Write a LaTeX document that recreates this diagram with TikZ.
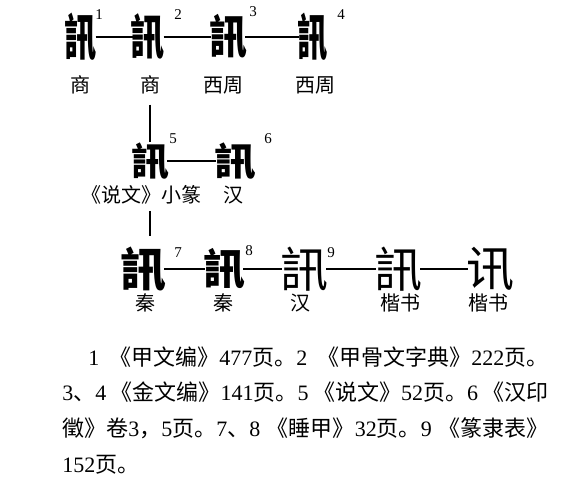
\documentclass[tikz,border=0pt]{standalone}
\usepackage{fontspec}
\setmainfont{Liberation Serif}
\newfontfamily\cjk{Noto Sans CJK SC}
\newfontfamily\cjktc{Noto Sans CJK TC}
\newcommand{\zh}[1]{{\cjk #1}}
\XeTeXlinebreaklocale "zh"
\XeTeXlinebreakskip=0pt plus 1pt

\begin{document}
\begin{tikzpicture}[x=0.5pt,y=-0.5pt,
	oldform/.style={inner sep=0pt,font=\cjktc\bfseries\fontsize{19}{19}\selectfont},
	newform/.style={inner sep=0pt,font=\cjktc\fontsize{24}{24}\selectfont},
	era/.style={inner sep=0pt,font=\cjk\fontsize{10}{10}\selectfont},
	idx/.style={inner sep=0pt,font=\fontsize{7.5}{7.5}\selectfont},
	link/.style={line width=0.6pt,shorten <=-1pt,shorten >=-1pt},
	note/.style={inner sep=0pt,anchor=west,font=\fontsize{11}{11}\selectfont}]
	\useasboundingbox (0,0) rectangle (588,500);
	% row 1
	\node[oldform] (g1) at (81,37) {\scalebox{0.85}[1.3]{訊}};\node[oldform] (g2) at (148,37) {\scalebox{0.9}[1.25]{訊}};\node[oldform] (g3) at (228,37) {\scalebox{1}[1.2]{訊}};\node[oldform] (g4) at (313,37) {\scalebox{0.8}[1.3]{訊}};
	\node[idx] (s1) at (99,15) {1};\node[idx] (s2) at (178,15) {2};\node[idx] (s3) at (253,12) {3};\node[idx] (s4) at (341,15) {4};
	\node[era] (e1) at (80,85) {商};\node[era] (e2) at (150,85) {商};\node[era] (e3) at (223,85) {西周};\node[era] (e4) at (315,85) {西周};
	\draw[link] (g1)--(g2);\draw[link] (g2)--(g3);\draw[link] (g3)--(g4);
	% row 2
	\node[oldform] (g5) at (150,161) {訊};\node[oldform] (g6) at (235,161) {\scalebox{1.1}[1]{訊}};
	\node[idx] (s5) at (173,139) {5};\node[idx] (s6) at (268,139) {6};
	\node[era] (e5) at (141,195) {《说文》小篆};\node[era] (e6) at (233,195) {汉};
	\draw[link] (g5)--(g6);
	\draw[line width=0.6pt] (e2.south)++(0,10)--(g5.north);
	% row 3
	\node[oldform,font=\cjktc\bfseries\fontsize{23}{23}\selectfont] (g7) at (143,269) {訊};\node[oldform,font=\cjktc\bfseries\fontsize{21}{21}\selectfont] (g8) at (224,269) {訊};
	\node[newform] (g9) at (304,269) {訊};\node[newform] (g10) at (398,269) {訊};\node[newform] (g11) at (490,269) {\zh{讯}};
	\node[idx] (s7) at (178,253) {7};\node[idx] (s8) at (249,251) {8};\node[idx] (s9) at (331,253) {9};
	\node[era] (e7) at (145,303) {秦};\node[era] (e8) at (223,303) {秦};\node[era] (e9) at (300,303) {汉};\node[era] (e10) at (400,303) {楷书};\node[era] (e11) at (488,303) {楷书};
	\draw[link] (g7)--(g8);\draw[link] (g8)--(g9);\draw[link] (g9)--(g10);\draw[link] (g10)--(g11);
	\draw[line width=0.6pt] ([yshift=-3]g5 |- e5.south)--([yshift=5]g5 |- g7.north);
	% sources
	\node[note] (n1) at (88,357) {\makebox[230pt][s]{1 \zh{《甲文编》}477\zh{页。}2 \zh{《甲骨文字典》}222\zh{页。}}};
	\node[note] (n2) at (62,392) {\makebox[243pt][s]{3\zh{、}4 \zh{《金文编》}141\zh{页。}5 \zh{《说文》}52\zh{页。}6 \zh{《汉印}}};
	\node[note] (n3) at (62,428) {\makebox[243pt][s]{\zh{徵》卷}3\zh{，}5\zh{页。}7\zh{、}8 \zh{《睡甲》}32\zh{页。}9 \zh{《篆隶表》}}};
	\node[note] (n4) at (62,465) {152\zh{页。}};
\end{tikzpicture}
\end{document}
